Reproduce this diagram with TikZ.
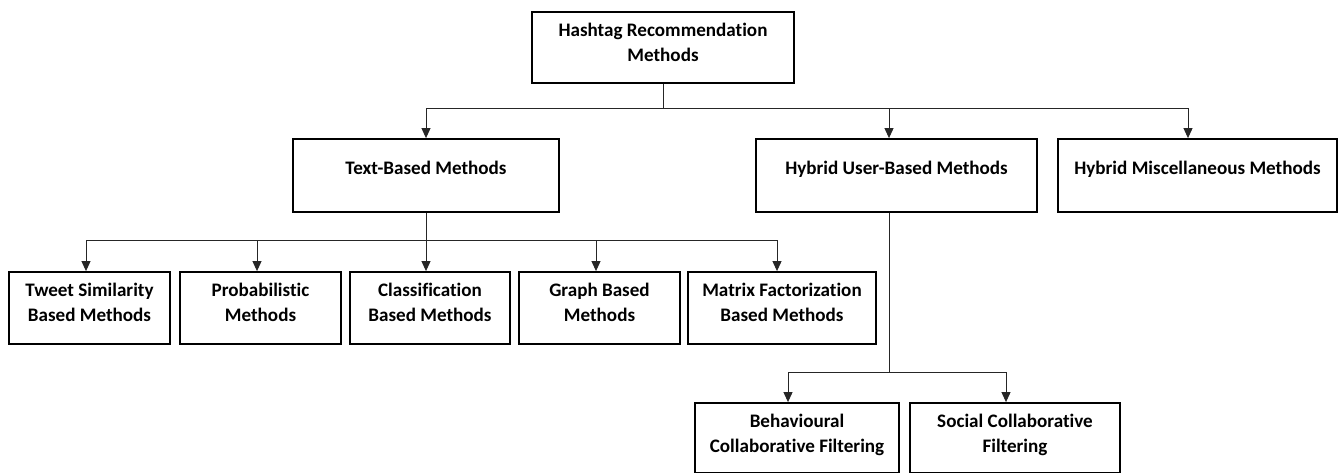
\documentclass[tikz,border=0pt]{standalone}
\usepackage{fontspec}
\setmainfont[Ligatures=NoCommon]{Carlito}
\usetikzlibrary{arrows.meta,calc}
\begin{document}
\begin{tikzpicture}[x=1pt,y=-1pt,
  box/.style n args={2}{draw=black,line width=1.8pt,minimum width=#1,minimum height=#2,inner sep=0pt},
  lbl/.style={align=center,inner sep=0pt,font=\fontsize{19.1}{25}\selectfont\bfseries,anchor=base},
  conn/.style={line width=0.9pt,draw=black!85},
  arr/.style={conn,-{Triangle[width=9pt,length=10pt]}}
]
\clip (0,0) rectangle (1339,472);
% boxes
\node[box={262}{71}] (root) at (663,47.5) {};
\node[box={266}{73}] (tb) at (426,175.5) {};
\node[box={281}{73}] (hu) at (896.5,175.5) {};
\node[box={279}{73}] (hm) at (1197.5,175.5) {};
\node[box={161}{72}] (ts) at (89.5,308) {};
\node[box={161}{72}] (pr) at (260.5,308) {};
\node[box={160}{72}] (cl) at (430,308) {};
\node[box={161}{72}] (gr) at (599.5,308) {};
\node[box={188}{72}] (mf) at (782,308) {};
\node[box={204}{70}] (bc) at (797,438) {};
\node[box={210}{70}] (sc) at (1015,438) {};
% labels (anchor=base is the baseline of the last line)
\node[lbl] (rootT) at ($(root.north)+(0,50)$) {Hashtag Recommendation\\Methods};
\node[lbl] (tbT) at ($(tb.north)+(0,36)$) {Text-Based Methods};
\node[lbl] (huT) at ($(hu.north)+(0,36)$) {Hybrid User-Based Methods};
\node[lbl] (hmT) at ($(hm.north)+(0,36)$) {Hybrid Miscellaneous Methods};
\node[lbl] (tsT) at ($(ts.north)+(0,50)$) {Tweet Similarity\\Based Methods};
\node[lbl] (prT) at ($(pr.north)+(0,50)$) {Probabilistic\\Methods};
\node[lbl] (clT) at ($(cl.north)+(0,50)$) {Classification\\Based Methods};
\node[lbl] (grT) at ($(gr.north)+(0,50)$) {Graph Based\\Methods};
\node[lbl] (mfT) at ($(mf.north)+(0,50)$) {Matrix Factorization\\Based Methods};
\node[lbl] (bcT) at ($(bc.north)+(0,50)$) {Behavioural\\Collaborative Filtering};
\node[lbl] (scT) at ($(sc.north)+(0,50)$) {Social Collaborative\\Filtering};
% junction coordinates
\coordinate (a-tb) at (426,108);
\coordinate (a-hu) at (889,108);
\coordinate (a-hm) at (1188,108);
\coordinate (a-ts) at (86,240);
\coordinate (a-pr) at (257,240);
\coordinate (a-cl) at (426,240);
\coordinate (a-gr) at (596,240);
\coordinate (a-mf) at (777,240);
\coordinate (a-bc) at (788,372);
\coordinate (a-sc) at (1006,372);
% level 1
\draw[conn] (root.south) -- (root.south |- a-tb);
\draw[conn] (a-tb) -- (a-hm);
\draw[arr] (a-tb) -- (a-tb |- tb.north);
\draw[arr] (a-hu) -- (a-hu |- hu.north);
\draw[arr] (a-hm) -- (a-hm |- hm.north);
% level 2 (text based)
\draw[conn] (tb.south) -- (tb.south |- a-cl);
\draw[conn] (a-ts) -- (a-mf);
\draw[arr] (a-ts) -- (a-ts |- ts.north);
\draw[arr] (a-pr) -- (a-pr |- pr.north);
\draw[arr] (a-cl) -- (a-cl |- cl.north);
\draw[arr] (a-gr) -- (a-gr |- gr.north);
\draw[arr] (a-mf) -- (a-mf |- mf.north);
% level 2 (hybrid user based)
\draw[conn] (a-hu |- hu.south) -- (a-hu |- a-bc);
\draw[conn] (a-bc) -- (a-sc);
\draw[arr] (a-bc) -- (a-bc |- bc.north);
\draw[arr] (a-sc) -- (a-sc |- sc.north);
\end{tikzpicture}
\end{document}
